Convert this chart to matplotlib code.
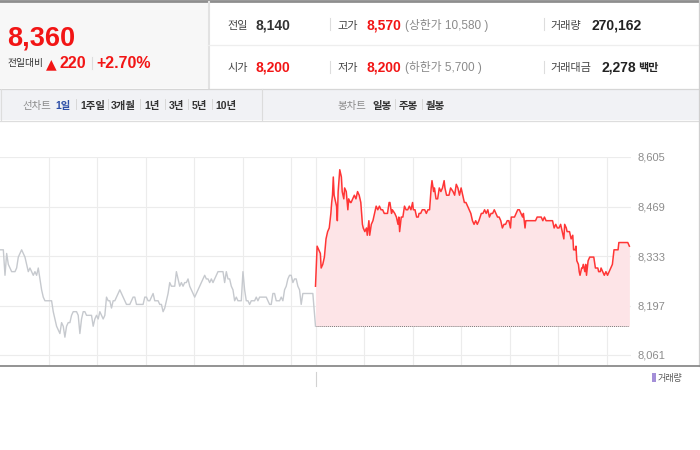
import numpy as np
import matplotlib
matplotlib.use("Agg")
import matplotlib.pyplot as plt
from matplotlib.lines import Line2D
from matplotlib.patches import Rectangle

# ---------------- data ----------------
current_price = "8,360"
change_abs = "220"
change_pct = "+2.70%"
prev_close = 8140
info_row1 = [("전일", "8,140", "#333333"), ("고가", "8,570", "#f21515"), ("거래량", "270,162", "#222222")]
info_row2 = [("시가", "8,200", "#f21515"), ("저가", "8,200", "#f21515"), ("거래대금", "2,278", "#222222")]
limit_up = "(상한가 10,580 )"
limit_down = "(하한가 5,700 )"
money_unit = "백만"
line_tabs = ["1일", "1주일", "3개월", "1년", "3년", "5년", "10년"]
candle_tabs = ["일봉", "주봉", "월봉"]

y_ticks = [8061, 8197, 8333, 8469, 8605]

session_len = 390          # minutes per session (09:00-15:30)
prev_step = 2.057          # sampling interval of previous-day series (min)
prev_prices = [
    8350, 8350, 8350, 8280, 8340, 8310, 8300, 8290, 8290, 8290,
    8300, 8330, 8340, 8350, 8340, 8330, 8310, 8290, 8300, 8290,
    8280, 8290, 8280, 8300, 8270, 8240, 8220, 8210, 8210, 8210,
    8210, 8210, 8180, 8160, 8140, 8130, 8120, 8150, 8140, 8110,
    8140, 8150, 8150, 8170, 8180, 8180, 8180, 8170, 8120, 8160,
    8180, 8180, 8170, 8170, 8170, 8170, 8140, 8160, 8170, 8160,
    8180, 8170, 8160, 8170, 8220, 8210, 8210, 8190, 8210, 8210,
    8220, 8230, 8240, 8230, 8220, 8210, 8200, 8200, 8200, 8210,
    8220, 8220, 8200, 8200, 8200, 8200, 8200, 8220, 8220, 8210,
    8210, 8220, 8230, 8210,
    8210, 8210, 8200, 8200, 8180, 8190, 8210, 8230, 8260, 8250,
    8250, 8250, 8290, 8270, 8250, 8260, 8250, 8260, 8260, 8270,
    8250, 8240, 8230, 8220, 8230, 8240, 8250, 8260, 8270, 8280,
    8270, 8270, 8260, 8270, 8260, 8270, 8280, 8290, 8290, 8290,
    8290, 8260, 8290, 8270, 8270, 8250, 8240, 8210, 8220, 8210,
    8210, 8210, 8290, 8240, 8210, 8210, 8200, 8210, 8210, 8210,
    8220, 8210, 8220, 8220, 8220, 8220, 8220, 8210, 8200, 8200,
    8230, 8230, 8210, 8210, 8210, 8220, 8210, 8240, 8250, 8270,
    8280, 8280, 8260, 8270, 8270, 8250, 8240, 8200, 8230, 8230,
    8230, 8230, 8230, 8230, 8230,
]

today_minutes = [
    0, 2, 4, 6, 7, 9, 11, 13, 15, 17, 19, 20, 21, 22, 23, 26, 27, 28, 30, 32,
    33, 35, 36, 38, 40, 41, 43, 44, 46, 48, 50, 52, 54, 56, 58, 59, 61, 63, 64, 66,
    67, 69, 71, 73, 75, 77, 79, 81, 83, 85, 87, 89, 91, 92, 94, 95, 98, 100, 102, 103,
    104, 106, 108, 110, 112, 114, 116, 118, 120, 121, 123, 125, 127, 128, 130, 132, 135, 137, 139, 141,
    143, 144, 146, 147, 149, 151, 153, 155, 157, 159, 160, 162, 164, 165, 167, 170, 172, 174, 176, 178,
    180, 182, 184, 186, 188, 190, 192, 194, 196, 198, 200, 202, 205, 207, 209, 211, 213, 215, 217, 219,
    221, 223, 225, 227, 229, 231, 233, 235, 237, 239, 241, 242, 244, 246, 248, 250, 252, 254, 256, 257,
    259, 260, 262, 264, 266, 268, 270, 272, 274, 277, 279, 281, 283, 285, 287, 289, 291, 293, 295, 297,
    299, 301, 303, 305, 307, 308, 310, 311, 314, 316, 318, 319, 321, 322, 323, 325, 326, 327, 329, 330,
    331, 333, 334, 335, 337, 339, 340, 342, 344, 346, 349, 350, 352, 353, 355, 357, 359, 361, 363, 365,
    367, 369, 371, 372, 374, 375, 377, 379, 381, 383, 386, 388,
]
today_prices = [
    8250, 8360, 8350, 8340, 8300, 8310, 8330, 8380, 8400, 8410, 8450, 8480, 8500, 8550, 8500, 8470, 8430, 8510, 8570, 8550,
    8510, 8490, 8520, 8510, 8460, 8490, 8480, 8480, 8490, 8500, 8490, 8510, 8500, 8480, 8420, 8410, 8400, 8410, 8390, 8430,
    8390, 8420, 8430, 8450, 8470, 8460, 8470, 8460, 8460, 8450, 8450, 8450, 8480, 8480, 8450, 8460, 8450, 8440, 8420, 8440,
    8400, 8440, 8440, 8470, 8460, 8460, 8470, 8460, 8480, 8460, 8460, 8440, 8440, 8450, 8450, 8460, 8460, 8450, 8460, 8460,
    8520, 8540, 8510, 8520, 8490, 8490, 8520, 8510, 8520, 8540, 8520, 8500, 8500, 8500, 8520, 8510, 8500, 8530, 8520, 8500,
    8520, 8500, 8480, 8480, 8470, 8460, 8450, 8430, 8420, 8430, 8420, 8430, 8450, 8450, 8460, 8450, 8460, 8440, 8450, 8450,
    8460, 8450, 8440, 8440, 8430, 8410, 8420, 8420, 8430, 8430, 8410, 8440, 8440, 8440, 8450, 8460, 8460, 8450, 8440, 8450,
    8410, 8430, 8430, 8430, 8430, 8430, 8430, 8430, 8440, 8440, 8440, 8430, 8440, 8430, 8430, 8430, 8430, 8430, 8410, 8420,
    8410, 8410, 8420, 8400, 8380, 8420, 8410, 8400, 8400, 8380, 8390, 8350, 8350, 8360, 8320, 8310, 8290, 8280, 8300, 8300,
    8310, 8290, 8310, 8280, 8320, 8330, 8330, 8330, 8330, 8300, 8300, 8290, 8290, 8300, 8290, 8280, 8290, 8280, 8290, 8300,
    8310, 8350, 8350, 8350, 8350, 8370, 8370, 8370, 8370, 8370, 8370, 8360,
]

# ---------------- figure helpers ----------------
W, H = 700, 450
fig = plt.figure(figsize=(W / 100, H / 100), dpi=100)
fig.patch.set_facecolor("white")

NUM = ["Liberation Sans", "Noto Sans CJK KR", "DejaVu Sans"]
KR = ["Noto Sans CJK KR", "Liberation Sans", "DejaVu Sans"]
RED = "#f21515"


def fx(x):
    return x / W


def fy(y):
    return 1 - y / H


def text(x, y, s, **kw):
    kw.setdefault("va", "baseline")
    kw.setdefault("ha", "left")
    return fig.text(fx(x), fy(y), s, **kw)


def hline(x0, x1, y, color, lw=0.72, z=1):
    fig.add_artist(Line2D([fx(x0), fx(x1)], [fy(y), fy(y)], transform=fig.transFigure,
                          color=color, lw=lw, zorder=z))


def vline(x, y0, y1, color, lw=0.72, z=1):
    fig.add_artist(Line2D([fx(x), fx(x)], [fy(y0), fy(y1)], transform=fig.transFigure,
                          color=color, lw=lw, zorder=z))


def rect(x0, y0, x1, y1, color, z=-1):
    fig.add_artist(Rectangle((fx(x0), fy(y1)), (x1 - x0) / W, (y1 - y0) / H,
                             transform=fig.transFigure, facecolor=color, edgecolor="none", zorder=z))


# ---------------- header ----------------
rect(0, 0, 208, 88, "#f7f7f7")
rect(0, 89, 700, 120, "#f1f2f5")
hline(0, 700, 1.2, "#8e8e8e", lw=2.0)
vline(208.5, 2, 88, "#e2e2e2", lw=1.5)
hline(208, 700, 45, "#eeeeee", lw=0.9)
hline(0, 700, 88.5, "#d6d6d6", lw=0.9)
hline(0, 700, 120.5, "#dddddd", lw=0.9)
vline(262, 89, 120, "#dcdcdc", lw=0.8)
vline(698.5, 0, 366, "#cfcfcf", lw=0.9)
vline(0.5, 89, 120, "#dddddd", lw=0.8)

text(7, 45, current_price, family=NUM, weight="bold", size=19.5, color=RED)
text(7, 66, "전일대비", family=KR, size=7, color="#333333")
text(46, 68, "▲", family=["DejaVu Sans"], size=10, color=RED)
text(60, 68, change_abs, family=NUM, weight="bold", size=11.5, color=RED)
vline(92, 57, 69, "#dddddd", lw=0.8)
text(96, 68, change_pct, family=NUM, weight="bold", size=11.5, color=RED)

col_label_x = [227, 337, 550]
col_value_x = [256, 367, None]
for (row, base) in ((info_row1, 29.3), (info_row2, 71.5)):
    for i, (lab, val, col) in enumerate(row):
        text(col_label_x[i], base, lab, family=KR, size=8, color="#444444")
        vx = col_value_x[i]
        if vx is None:
            vx = 591 if len(lab) == 3 else 602
        text(vx, base, val, family=NUM, weight="bold", size=10, color=col)
for b in (24, 67):
    vline(330, b - 6, b + 6, "#dddddd", lw=0.8)
    vline(543.5, b - 6, b + 6, "#dddddd", lw=0.8)
text(405, 29.3, limit_up, family=NUM, size=8.5, color="#8a8a8a")
text(405, 71.5, limit_down, family=NUM, size=8.5, color="#8a8a8a")
text(638, 71.5, money_unit, family=KR, weight="bold", size=8, color="#222222")

# ---------------- tab bar ----------------
tab_base = 108.5
text(36.5, tab_base, "선차트", family=KR, size=7.5, color="#8a8a8a", ha="center")
tab_centers = [63.5, 92.5, 123.5, 152, 176, 199.5, 225.5]
for i, (lab, cx) in enumerate(zip(line_tabs, tab_centers)):
    text(cx, tab_base, lab, family=NUM, weight="bold", size=7.5,
         color="#2d4fa8" if i == 0 else "#333333", ha="center")
for sx in (76, 108, 140, 165, 188, 212):
    vline(sx, 99, 109, "#d8d8d8", lw=0.7)
text(351.5, tab_base, "봉차트", family=KR, size=7.5, color="#8a8a8a", ha="center")
for lab, cx in zip(candle_tabs, [382.5, 408.5, 435.5]):
    text(cx, tab_base, lab, family=KR, weight="bold", size=7.5, color="#333333", ha="center")
for sx in (395, 422):
    vline(sx, 99, 109, "#d8d8d8", lw=0.7)

# ---------------- chart ----------------
ax_left, ax_right, ax_top, ax_bottom = 0, 631, 157, 365
ax = fig.add_axes([fx(ax_left), fy(ax_bottom), (ax_right - ax_left) / W, (ax_bottom - ax_top) / H])
ax.set_facecolor("none")
px_per_val = (355 - 157) / (y_ticks[-1] - y_ticks[0])
y_lo = y_ticks[0] - (ax_bottom - 355) / px_per_val
ax.set_ylim(y_lo, y_ticks[-1])
ax.set_xlim(0, 2 * session_len)

prev_t = np.append(np.arange(len(prev_prices)) * prev_step, session_len)
prev_v = np.append(prev_prices, prev_close)
today_t = session_len + np.array(today_minutes)
today_v = np.array(today_prices)

ax.fill_between(today_t, prev_close, today_v, color="#fde4e7", lw=0, zorder=1)
ax.hlines(prev_close, session_len, today_t[-1], colors="#7a7a7a", linestyles=(0, (1, 1)), lw=0.7, zorder=2)
ax.plot(prev_t, prev_v, color="#c6c9ce", lw=1.0, zorder=3)
ax.plot(today_t, today_v, color="#ff3535", lw=1.1, zorder=4)

grid_x = np.concatenate([np.arange(60, session_len, 60), np.arange(session_len, 2 * session_len, 60)])
ax.set_xticks(grid_x)
ax.set_xticklabels([])
ax.set_yticks(y_ticks)
ax.set_yticklabels([f"{v:,}" for v in y_ticks], family=NUM, size=8, color="#8c8c8c")
ax.yaxis.tick_right()
ax.tick_params(length=0)
ax.tick_params(axis="y", pad=5)
ax.grid(True, color="#ececec", lw=0.8)
ax.set_axisbelow(True)
for s in ax.spines.values():
    s.set_visible(False)

hline(0, 700, 365.8, "#8a8a8a", lw=1.3, z=5)
vline(316, 372, 386, "#d2d2d2", lw=0.8)

# volume legend
rect(652, 373, 655.5, 382, "#a48fd8", z=2)
text(658, 381.5, "거래량", family=KR, size=6.5, color="#555555")

fig.savefig("out.png", dpi=100)
